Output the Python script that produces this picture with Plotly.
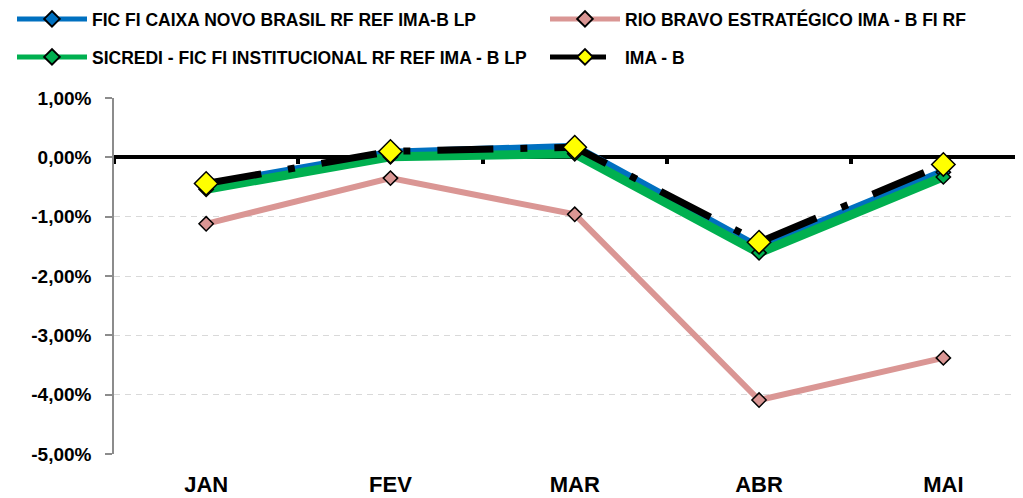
import plotly.graph_objects as go

months = ["JAN", "FEV", "MAR", "ABR", "MAI"]
caixa = [-0.48, 0.07, 0.17, -1.53, -0.25]
rio_bravo = [-1.12, -0.35, -0.96, -4.09, -3.38]
sicredi = [-0.54, 0.01, 0.06, -1.61, -0.33]
ima_b = [-0.44, 0.10, 0.17, -1.43, -0.12]

names = [
    "FIC FI CAIXA NOVO BRASIL RF REF IMA-B LP",
    "RIO BRAVO ESTRATÉGICO IMA - B FI RF",
    "SICREDI - FIC FI INSTITUCIONAL RF REF IMA - B LP",
    "IMA - B",
]

y_tick_vals = [1, 0, -1, -2, -3, -4, -5]
y_tick_text = ["1,00%", "0,00%", "-1,00%", "-2,00%", "-3,00%", "-4,00%", "-5,00%"]

BLUE = "#0070C0"
PINK = "#DA9694"
GREEN = "#00B050"
BLACK = "#000000"
YELLOW = "#FFFF00"

FONT = "Liberation Sans"

fig = go.Figure()

fig.add_trace(go.Scatter(
    x=months, y=caixa, name=names[0], mode="lines+markers",
    line=dict(color=BLUE, width=9),
    marker=dict(symbol="diamond", size=11, color=BLUE, line=dict(color=BLACK, width=1.5)),
    legend="legend",
))
fig.add_trace(go.Scatter(
    x=months, y=rio_bravo, name=names[1], mode="lines+markers",
    line=dict(color=PINK, width=6),
    marker=dict(symbol="diamond", size=11, color=PINK, line=dict(color=BLACK, width=1.5)),
    legend="legend2",
))
fig.add_trace(go.Scatter(
    x=months, y=sicredi, name=names[2], mode="lines+markers",
    line=dict(color=GREEN, width=9),
    marker=dict(symbol="diamond", size=11, color=GREEN, line=dict(color=BLACK, width=1.5)),
    legend="legend3",
))
fig.add_trace(go.Scatter(
    x=months, y=ima_b, name=names[3], mode="lines+markers",
    line=dict(color=BLACK, width=7, dash="56px,27px,7px,27px"),
    marker=dict(symbol="diamond", size=18, color=YELLOW, line=dict(color=BLACK, width=1.5)),
    legend="legend4",
))
# helper (invisible) trace for the zero-positioned category axis
fig.add_trace(go.Scatter(
    x=[0], y=[None], xaxis="x2", showlegend=False, hoverinfo="skip", mode="lines",
))

# page body adds an 8px offset, so the figure is drawn 8px smaller
W, H = 1015, 490
n = len(months)
PLOT_L, PLOT_T, PLOT_B = 106, 90, 446
x_range = [-0.5, -0.5 + (W - PLOT_L) / 184.3]
boundaries = [i - 0.5 for i in range(n + 1)]


def px_to_paper_x(px):
    return (px - PLOT_L) / (W - PLOT_L)


def px_to_paper_y(py):
    return (PLOT_B - py) / (PLOT_B - PLOT_T)


legend_common = dict(
    orientation="h", xanchor="left", yanchor="middle",
    font=dict(family=FONT, size=17.5, color="black", weight="bold"),
    itemwidth=70, itemsizing="constant", bgcolor="rgba(0,0,0,0)",
)

col_x = [px_to_paper_x(4), px_to_paper_x(537)]
row_y = [px_to_paper_y(11), px_to_paper_y(49)]

fig.update_layout(
    width=W, height=H,
    margin=dict(l=PLOT_L, r=0, t=PLOT_T, b=H - PLOT_B, autoexpand=False),
    paper_bgcolor="white", plot_bgcolor="white",
    showlegend=True,
    legend=dict(x=col_x[0], y=row_y[0], **legend_common),
    legend2=dict(x=col_x[1], y=row_y[0], **legend_common),
    legend3=dict(x=col_x[0], y=row_y[1], **legend_common),
    legend4=dict(x=col_x[1], y=row_y[1], **legend_common),
    xaxis=dict(
        type="category", range=x_range,
        showgrid=False, showline=False, zeroline=False,
        ticks="outside", ticklen=11, tickcolor="rgba(0,0,0,0)",
        tickfont=dict(family=FONT, size=22, color="black", weight="bold"),
    ),
    xaxis2=dict(
        overlaying="x", anchor="free", position=5 / 6, type="linear",
        range=x_range, showgrid=False, zeroline=False,
        showline=True, linecolor=BLACK, linewidth=4,
        ticks="outside", tickvals=boundaries, ticklen=5, tickwidth=3.5, tickcolor=BLACK,
        showticklabels=False, side="bottom", layer="below traces",
    ),
    yaxis=dict(
        range=[-5, 1], tickvals=y_tick_vals, ticktext=y_tick_text,
        showgrid=True, gridcolor="#D9D9D9", gridwidth=1.3, griddash="6px,5px",
        zeroline=False, showline=True, linecolor="#8C8C8C", linewidth=1.5,
        ticks="outside", ticklen=7, tickcolor="#8C8C8C", tickwidth=1.5,
        ticklabelstandoff=10,
        tickfont=dict(family=FONT, size=19, color="black", weight="bold"),
    ),
)

fig.write_html("out.html")
